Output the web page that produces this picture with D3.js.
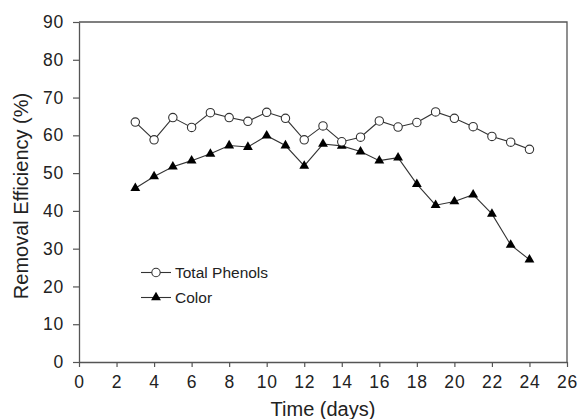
<!DOCTYPE html>
<html>
<head>
<meta charset="utf-8">
<script src="https://cdn.jsdelivr.net/npm/d3@7"></script>
<style>
  body { margin: 0; background: #fff; }
  svg { display: block; font-family: "Liberation Sans", Arial, sans-serif; }
</style>
</head>
<body>
<svg id="chart"></svg>
<script>
const width = 579;
const height = 419;
const margin = {top: 22, right: 12, bottom: 57, left: 79};

const days = [3, 4, 5, 6, 7, 8, 9, 10, 11, 12, 13, 14, 15, 16, 17, 18, 19, 20, 21, 22, 23, 24];
const totalPhenols = [63.5, 58.8, 64.7, 62.1, 66.0, 64.7, 63.7, 66.1, 64.5, 58.8, 62.5, 58.3,
                      59.5, 63.8, 62.2, 63.4, 66.2, 64.5, 62.3, 59.7, 58.2, 56.3];
const color = [46.0, 49.1, 51.7, 53.3, 55.1, 57.3, 56.9, 59.9, 57.3, 51.9, 57.7, 57.2,
               55.7, 53.3, 54.1, 47.1, 41.5, 42.5, 44.3, 39.2, 31.0, 27.1];
const xTicks = [0, 2, 4, 6, 8, 10, 12, 14, 16, 18, 20, 22, 24, 26];
const yTicks = [0, 10, 20, 30, 40, 50, 60, 70, 80, 90];

const svg = d3.select('#chart')
    .attr('width', width)
    .attr('height', height);

const x = d3.scaleLinear().domain([0, 26]).range([margin.left, width - margin.right]);
const y = d3.scaleLinear().domain([0, 90]).range([height - margin.bottom, margin.top]);

const axisColor = '#555';
const textColor = '#222';

// frame top + right
svg.append('path')
    .attr('d', `M${x(0)},${y(90)}H${x(26)}V${y(0)}`)
    .attr('fill', 'none')
    .attr('stroke', axisColor)
    .attr('stroke-width', 1.3);

const xAxis = svg.append('g')
    .attr('transform', `translate(0, ${y(0)})`)
    .call(d3.axisBottom(x).tickValues(xTicks).tickSize(5).tickPadding(9).tickSizeOuter(0));

const yAxis = svg.append('g')
    .attr('transform', `translate(${x(0)}, 0)`)
    .call(d3.axisLeft(y).tickValues(yTicks).tickSize(6).tickPadding(9).tickSizeOuter(0));

[xAxis, yAxis].forEach(g => {
    g.select('.domain').attr('stroke', axisColor).attr('stroke-width', 1.3);
    g.selectAll('.tick line').attr('stroke', axisColor).attr('stroke-width', 1.2);
    g.selectAll('.tick text')
        .attr('fill', textColor)
        .style('font-size', '17.5px')
        .style('letter-spacing', '0.8px')
        .style('font-family', '"Liberation Sans", Arial, sans-serif');
});

svg.append('text')
    .attr('x', (x(0) + x(26)) / 2 - 0)
    .attr('y', 416)
    .attr('text-anchor', 'middle')
    .attr('fill', textColor)
    .style('font-size', '20px')
    .text('Time (days)');

svg.append('text')
    .attr('transform', `translate(28, ${y(45) + 4}) rotate(-90)`)
    .attr('text-anchor', 'middle')
    .attr('fill', textColor)
    .style('font-size', '20px')
    .text('Removal Efficiency (%)');

const line = d3.line()
    .x((d, i) => x(days[i]))
    .y(d => y(d));

const lineColor = '#333';

svg.append('path')
    .datum(totalPhenols)
    .attr('fill', 'none')
    .attr('stroke', lineColor)
    .attr('stroke-width', 1.1)
    .attr('d', line);

svg.append('path')
    .datum(color)
    .attr('fill', 'none')
    .attr('stroke', lineColor)
    .attr('stroke-width', 1.1)
    .attr('d', line);

const triangle = d3.symbol().type(d3.symbolTriangle).size(42);

svg.append('g').selectAll('path')
    .data(color).enter().append('path')
    .attr('transform', (d, i) => `translate(${x(days[i])}, ${y(d)})`)
    .attr('d', triangle)
    .attr('fill', '#000');

svg.append('g').selectAll('circle')
    .data(totalPhenols).enter().append('circle')
    .attr('cx', (d, i) => x(days[i]))
    .attr('cy', d => y(d))
    .attr('r', 4.2)
    .attr('fill', '#fff')
    .attr('stroke', lineColor)
    .attr('stroke-width', 1.1);

// legend
const legend = svg.append('g');
const legendItems = [
    {label: 'Total Phenols', y: 272.5, marker: 'circle'},
    {label: 'Color', y: 297.5, marker: 'triangle'}
];
legendItems.forEach(item => {
    legend.append('line')
        .attr('x1', 141).attr('x2', 171)
        .attr('y1', item.y).attr('y2', item.y)
        .attr('stroke', lineColor)
        .attr('stroke-width', 1.1);
    if (item.marker === 'circle') {
        legend.append('circle')
            .attr('cx', 156).attr('cy', item.y).attr('r', 4.2)
            .attr('fill', '#fff').attr('stroke', lineColor).attr('stroke-width', 1.1);
    } else {
        legend.append('path')
            .attr('transform', `translate(156, ${item.y})`)
            .attr('d', triangle)
            .attr('fill', '#000');
    }
    legend.append('text')
        .attr('x', 175)
        .attr('y', item.y)
        .attr('dy', '0.36em')
        .attr('fill', textColor)
        .style('font-size', '15.5px')
        .text(item.label);
});
</script>
</body>
</html>
